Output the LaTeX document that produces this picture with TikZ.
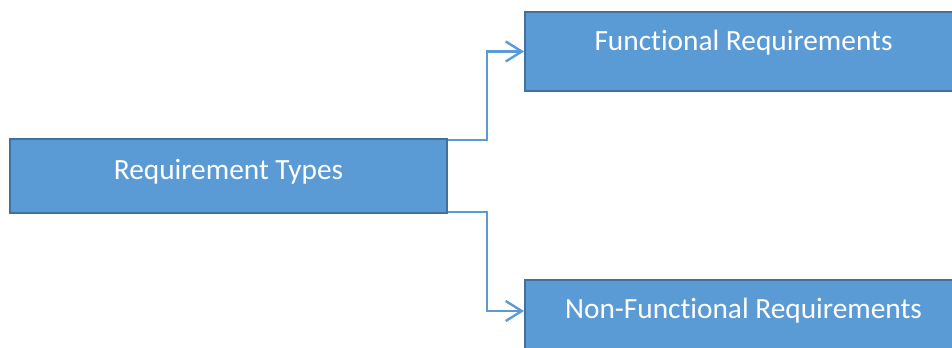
\documentclass[tikz,border=0pt]{standalone}
\usepackage{fontspec}
\setmainfont{Carlito}[Ligatures={NoCommon}]
\usepackage{tikz}
\usetikzlibrary{arrows.meta}
\definecolor{boxfill}{RGB}{91,155,213}
\definecolor{boxline}{RGB}{65,113,156}
\tikzset{every picture/.style={line width=0.75pt}}

\begin{document}
\begin{tikzpicture}[x=0.75pt,y=0.75pt,yscale=-1,xscale=1,
	box/.style={draw=boxline, line width=1.5pt, fill=boxfill, text=white, inner sep=0pt,
		minimum width=327.75pt, font=\fontsize{22pt}{26pt}\selectfont},
	link/.style={draw=boxfill, line width=1.8pt, -{Straight Barb[length=12pt,width=15pt,line width=1.8pt]}}]
	%set diagram to 952 x 347
	\useasboundingbox (0,0) rectangle (952,347);
	\clip (0,0) rectangle (952,347);
	
	% Boxes
	\node [box, minimum height=55.5pt, text height=30.2pt, text depth=25.3pt] (req) at (228.5,176) {Requirement Types};
	\node [box, minimum height=59.25pt, text height=28.5pt, text depth=30.75pt] (func) at (743.5,51.5) {Functional Requirements};
	\node [box, minimum height=59.25pt, text height=28.7pt, text depth=30.55pt] (nonfunc) at (743.5,319.5) {Non-Functional Requirements};
	
	% Connectors (yscale=-1, so a positive yshift goes down)
	\draw [link] ([yshift=1.5pt]req.north east) -- ++(39,0) |- (func.west);
	\draw [link] ([yshift=-1.5pt]req.south east) -- ++(39,0) |- ([yshift=24pt]nonfunc.north west);
\end{tikzpicture}
\end{document}
